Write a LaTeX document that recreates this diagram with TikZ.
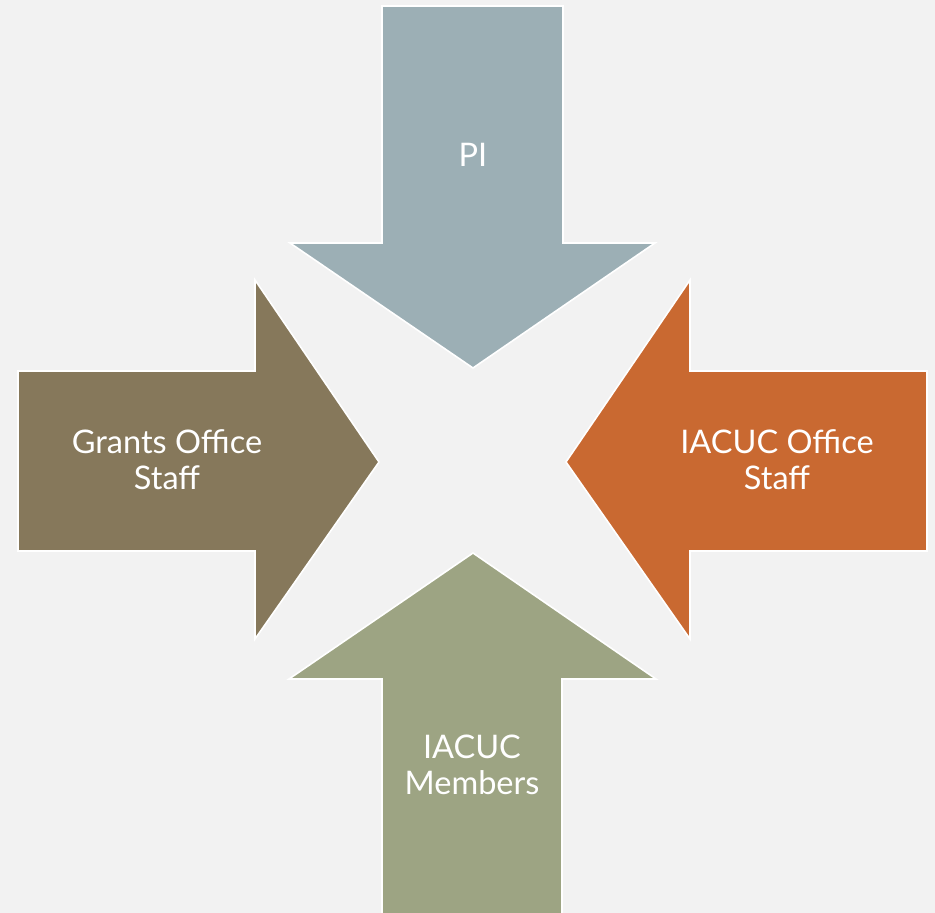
\documentclass[tikz,border=0pt]{standalone}
\usepackage{fontspec}
\setmainfont{Lato}
\definecolor{bgc}{HTML}{F2F2F2}
\definecolor{pic}{HTML}{9CAFB5}
\definecolor{grc}{HTML}{86785B}
\definecolor{orc}{HTML}{C96931}
\definecolor{mbc}{HTML}{9DA483}
\tikzset{
  arrowshape/.style={draw=white, line width=1.6pt, line join=miter},
  lbl/.style={text=white, font=\fontsize{32.5}{36}\selectfont, align=center, inner sep=0pt}
}
\begin{document}
\begin{tikzpicture}[x=1pt,y=-1pt]
\useasboundingbox (0,0) rectangle (935,913);
\fill[bgc] (0,0) rectangle (935,913);
\begin{scope}
\clip (0,0) rectangle (935,913);
% top arrow (PI)
\draw[arrowshape, fill=pic] (382,6) -- (563,6) -- (563,243) -- (655,243) -- (473,368) -- (290,243) -- (382,243) -- cycle;
% left arrow (Grants)
\draw[arrowshape, fill=grc] (18,371) -- (255,371) -- (255,280) -- (379,462) -- (255,639) -- (255,551) -- (18,551) -- cycle;
% right arrow (IACUC Office)
\draw[arrowshape, fill=orc] (927,371) -- (690,371) -- (690,280) -- (566,462) -- (690,639) -- (690,551) -- (927,551) -- cycle;
% bottom arrow (IACUC Members)
\draw[arrowshape, fill=mbc] (382,925) -- (382,679) -- (289,679) -- (473,553) -- (656,679) -- (562,679) -- (562,925) -- cycle;
\end{scope}
\node[lbl] (pi) at (473,155) {PI};
\node[lbl] (grants) at (167,460) {Grants Office\\Staff};
\node[lbl] (office) at (777,460) {IACUC Office\\Staff};
\node[lbl] (members) at (472,765) {IACUC\\Members};
\end{tikzpicture}
\end{document}
